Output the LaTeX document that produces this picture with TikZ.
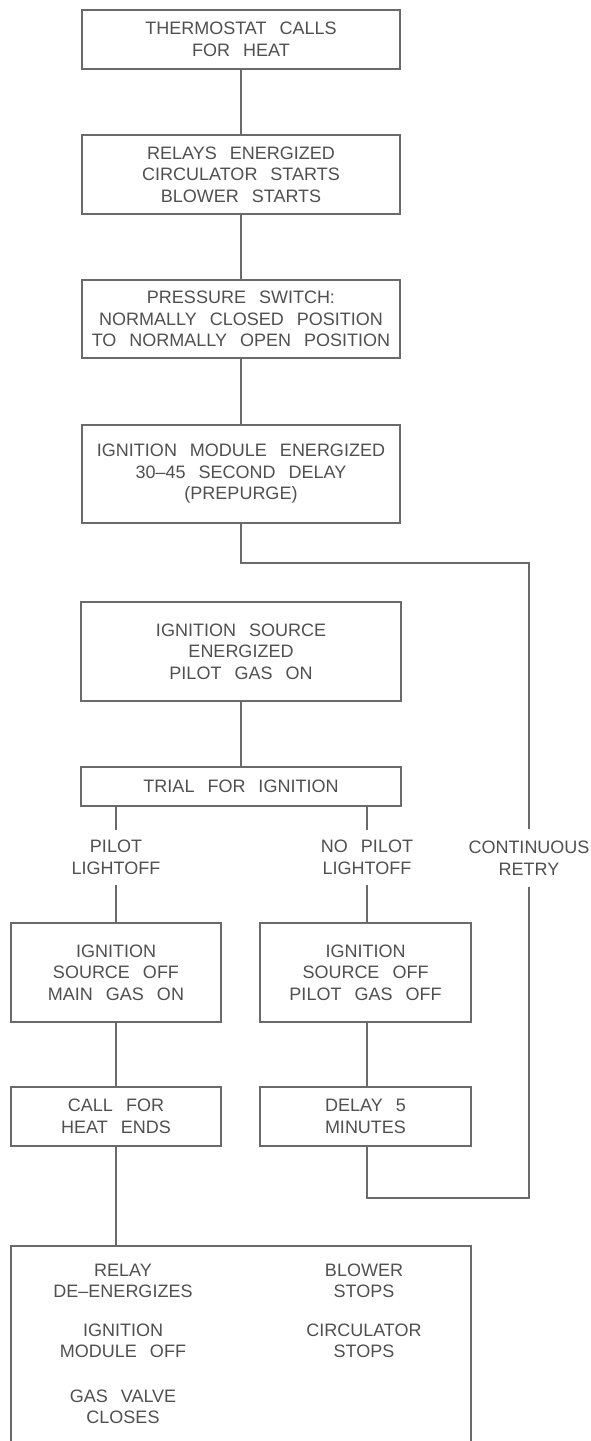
\documentclass[tikz,border=0pt]{standalone}
\usepackage{fontspec}
\setmainfont[WordSpace=2.6]{Liberation Sans}
\definecolor{ink}{HTML}{505050}
\definecolor{edge}{HTML}{6A6A6A}
\begin{document}
\begin{tikzpicture}[x=1pt,y=-1pt,
  every node/.style={text=ink,font=\fontsize{18}{21.5}\selectfont,align=center,inner sep=0pt},
  stepbox/.style={draw=edge,line width=1.6pt,rectangle},
  lbl/.style={minimum width=10pt},
  wire/.style={draw=edge,line width=1.6pt}]
\useasboundingbox[fill=white] (0,0) rectangle (591,1441);
% main column
\node[stepbox,minimum width=318pt,minimum height=59pt] (b1) at (241,39.5) {THERMOSTAT CALLS\\FOR HEAT};
\node[stepbox,minimum width=318pt,minimum height=79pt] (b2) at (241,174.5) {RELAYS ENERGIZED\\CIRCULATOR STARTS\\BLOWER STARTS};
\node[stepbox,minimum width=318pt,minimum height=78pt] (b3) at (241,319) {PRESSURE SWITCH:\\NORMALLY CLOSED POSITION\\TO NORMALLY OPEN POSITION};
\node[stepbox,minimum width=318pt,minimum height=98pt] (b4) at (241,474) {IGNITION MODULE ENERGIZED\\30--45 SECOND DELAY\\(PREPURGE)};
\node[stepbox,minimum width=320pt,minimum height=99pt] (b5) at (241,651.5) {IGNITION SOURCE\\ENERGIZED\\PILOT GAS ON};
\node[stepbox,minimum width=320pt,minimum height=39pt] (trial) at (241,786.5) {TRIAL FOR IGNITION};
% branch labels
\node[lbl,minimum height=55pt] (pl) at (116,857.5) {PILOT\\LIGHTOFF};
\node[lbl,minimum height=55pt] (npl) at (367,857.5) {NO PILOT\\LIGHTOFF};
\node[lbl,minimum height=57pt] (cr) at (529,858) {CONTINUOUS\\RETRY};
% branches
\node[stepbox,minimum width=210pt,minimum height=99pt] (ba) at (116,972.5) {IGNITION\\SOURCE OFF\\MAIN GAS ON};
\node[stepbox,minimum width=211pt,minimum height=99pt] (bb) at (365.5,972.5) {IGNITION\\SOURCE OFF\\PILOT GAS OFF};
\node[stepbox,minimum width=210pt,minimum height=59pt] (call) at (116,1116.5) {CALL FOR\\HEAT ENDS};
\node[stepbox,minimum width=211pt,minimum height=59pt] (delay) at (365.5,1116.5) {DELAY 5\\MINUTES};
% final box (cut off at the bottom)
\node[stepbox,minimum width=460pt,minimum height=214pt] (fin) at (241,1353) {};
\node (f1) at (123,1281) {RELAY\\DE--ENERGIZES};
\node (f2) at (123,1341) {IGNITION\\MODULE OFF};
\node (f3) at (123,1407) {GAS VALVE\\CLOSES};
\node (f4) at (364,1281) {BLOWER\\STOPS};
\node (f5) at (364,1341) {CIRCULATOR\\STOPS};
% connectors
\coordinate (k1) at (529,563);
\coordinate (k2) at (529,1198);
\draw[wire] (b1.south) -- (b2.north);
\draw[wire] (b2.south) -- (b3.north);
\draw[wire] (b3.south) -- (b4.north);
\draw[wire] (b4.south) |- (k1) -- (cr.north);
\draw[wire] (b5.south) -- (trial.north);
\draw[wire] (trial.south -| pl.north) -- (pl.north);
\draw[wire] (trial.south -| npl.north) -- (npl.north);
\draw[wire] (pl.south) -- (ba.north -| pl.south);
\draw[wire] (npl.south) -- (bb.north -| npl.south);
\draw[wire] (ba.south) -- (call.north);
\draw[wire] (bb.south -| npl.south) -- (delay.north -| npl.south);
\draw[wire] (cr.south) -- (k2) -| (delay.south -| npl.south);
\draw[wire] (call.south) -- (fin.north -| call.south);
\end{tikzpicture}
\end{document}
